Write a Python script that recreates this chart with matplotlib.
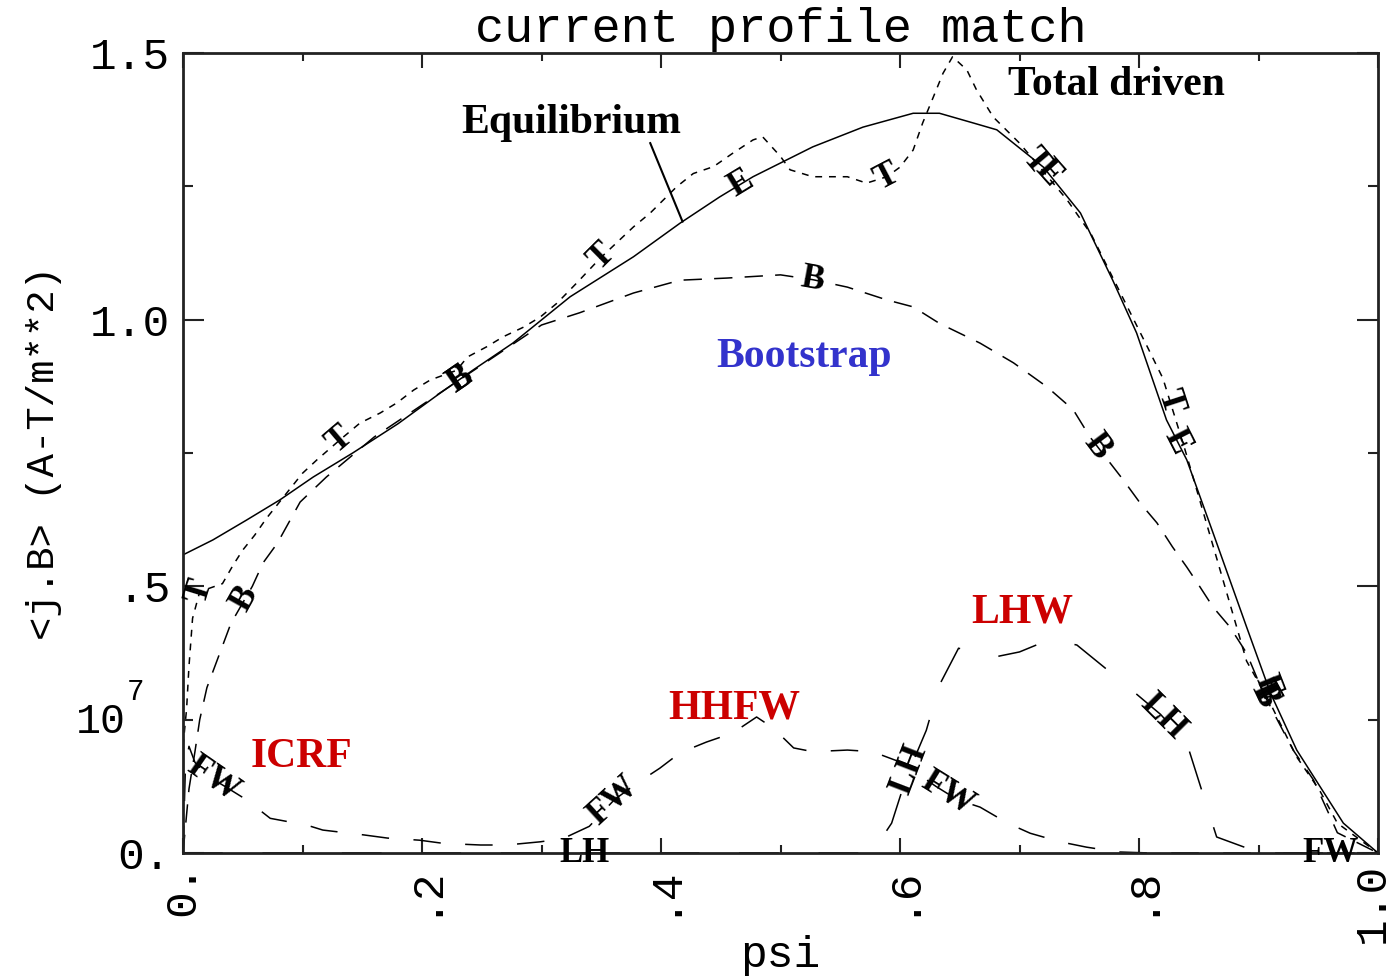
import numpy as np
import matplotlib
matplotlib.use("Agg")
import matplotlib.pyplot as plt
from matplotlib.transforms import blended_transform_factory, ScaledTranslation

# ---- flux-surface averaged current density <j.B>, units of 1e7 A-T/m**2 ----
# equilibrium profile
psi_eq = [0.0, 0.025, 0.053, 0.081, 0.109, 0.142, 0.18, 0.215, 0.243, 0.276, 0.324,
          0.377, 0.416, 0.449, 0.477, 0.527, 0.569, 0.611, 0.633, 0.661, 0.681, 0.72,
          0.751, 0.778, 0.798, 0.823, 0.84, 0.862, 0.89, 0.91, 0.932, 0.971, 1.0]
jb_eq = [0.559, 0.587, 0.624, 0.662, 0.705, 0.75, 0.805, 0.862, 0.906, 0.956, 1.043,
         1.118, 1.181, 1.23, 1.268, 1.324, 1.361, 1.387, 1.387, 1.369, 1.356, 1.286,
         1.2, 1.074, 0.975, 0.812, 0.737, 0.6, 0.424, 0.3, 0.193, 0.056, 0.0]

# total driven current
psi_tot = [0.0, 0.003, 0.005, 0.008, 0.014, 0.033, 0.042, 0.05, 0.06, 0.07, 0.1, 0.112,
           0.131, 0.148, 0.165, 0.179, 0.193, 0.207, 0.229, 0.238, 0.254, 0.268, 0.285,
           0.299, 0.313, 0.33, 0.349, 0.377, 0.391, 0.413, 0.427, 0.444, 0.46, 0.477,
           0.485, 0.5, 0.508, 0.527, 0.556, 0.572, 0.589, 0.6, 0.611, 0.619, 0.628,
           0.636, 0.644, 0.656, 0.664, 0.678, 0.7, 0.717, 0.74, 0.76, 0.78, 0.807, 0.82,
           0.838, 0.866, 0.89, 0.91, 0.932, 0.951, 0.966, 1.0]
jb_tot = [0.20, 0.27, 0.35, 0.44, 0.49, 0.505, 0.54, 0.568, 0.596, 0.628, 0.712, 0.737,
          0.774, 0.806, 0.825, 0.844, 0.868, 0.887, 0.905, 0.93, 0.949, 0.968, 0.986,
          1.005, 1.031, 1.07, 1.115, 1.174, 1.2, 1.249, 1.274, 1.287, 1.312, 1.337,
          1.343, 1.306, 1.281, 1.268, 1.268, 1.256, 1.268, 1.286, 1.318, 1.369, 1.418,
          1.462, 1.493, 1.468, 1.431, 1.38, 1.331, 1.286, 1.224, 1.16, 1.07, 0.949, 0.89,
          0.76, 0.545, 0.36, 0.28, 0.18, 0.118, 0.056, 0.0]

# bootstrap current
psi_bs = [0.0, 0.005, 0.01, 0.014, 0.02, 0.03, 0.04, 0.05, 0.058, 0.067, 0.079, 0.098,
          0.12, 0.16, 0.2, 0.23, 0.26, 0.3, 0.332, 0.377, 0.416, 0.455, 0.5, 0.527,
          0.556, 0.589, 0.611, 0.633, 0.656, 0.667, 0.695, 0.723, 0.745, 0.759, 0.787,
          0.801, 0.815, 0.828, 0.84, 0.851, 0.862, 0.876, 0.89, 0.904, 0.929, 0.946,
          0.96, 0.966, 1.0]
jb_bs = [0.0, 0.12, 0.19, 0.25, 0.31, 0.37, 0.43, 0.469, 0.5, 0.544, 0.581, 0.658,
         0.705, 0.78, 0.84, 0.885, 0.93, 0.99, 1.013, 1.05, 1.074, 1.078, 1.084, 1.075,
         1.061, 1.037, 1.024, 0.993, 0.968, 0.956, 0.919, 0.874, 0.831, 0.78, 0.699,
         0.656, 0.619, 0.574, 0.536, 0.499, 0.461, 0.424, 0.375, 0.30, 0.193, 0.137,
         0.068, 0.038, 0.0]

# fast wave current (ICRF near axis, HHFW off axis)
psi_fw = [0.0, 0.002, 0.005, 0.01, 0.02, 0.035, 0.053, 0.073, 0.104, 0.117, 0.151, 0.171,
          0.198, 0.218, 0.249, 0.271, 0.299, 0.318, 0.34, 0.361, 0.38, 0.399, 0.416,
          0.438, 0.46, 0.48, 0.494, 0.511, 0.527, 0.556, 0.577, 0.602, 0.63, 0.648,
          0.667, 0.69, 0.709, 0.734, 0.756, 0.782, 0.81, 1.0]
jb_fw = [0.0, 0.16, 0.2, 0.17, 0.145, 0.125, 0.1, 0.065, 0.052, 0.043, 0.034, 0.028,
         0.024, 0.018, 0.015, 0.015, 0.021, 0.027, 0.05, 0.1, 0.131, 0.159, 0.188,
         0.208, 0.225, 0.255, 0.234, 0.197, 0.19, 0.193, 0.19, 0.169, 0.125, 0.1,
         0.086, 0.056, 0.037, 0.021, 0.011, 0.002, 0.0, 0.0]

# lower hybrid current
psi_lh = [0.0, 0.57, 0.577, 0.593, 0.605, 0.622, 0.633, 0.649, 0.676, 0.70, 0.725,
          0.748, 0.782, 0.818, 0.84, 0.853, 0.865, 0.899, 0.92, 1.0]
jb_lh = [0.0, 0.0, 0.002, 0.056, 0.14, 0.23, 0.315, 0.384, 0.366, 0.377, 0.40,
         0.39, 0.328, 0.26, 0.206, 0.114, 0.03, 0.002, 0.0, 0.0]

x_ticks = [0.0, 0.2, 0.4, 0.6, 0.8, 1.0]
x_tick_labels = ["0.", ".2", ".4", ".6", ".8", "1.0"]
x_minor = [0.1, 0.3, 0.5, 0.7, 0.9]
y_ticks = [0.0, 0.5, 1.0, 1.5]
y_tick_labels = ["0.", ".5", "1.0", "1.5"]
y_minor = [0.25, 0.75, 1.25]

MONO = "Liberation Mono"
SERIF = "Liberation Serif"

fig = plt.figure(figsize=(13.93, 9.77), dpi=100)
fig.patch.set_facecolor("white")
ax = fig.add_axes([183 / 1393, 124 / 977, 1195 / 1393, 800 / 977])
ax.set_xlim(0, 1)
ax.set_ylim(0, 1.5)

lw = 1.1
ax.plot(psi_eq, jb_eq, color="black", lw=lw, ls="-")
ax.plot(psi_tot, jb_tot, color="black", lw=lw, ls=(0, (4.5, 4.5)))
ax.plot(psi_bs, jb_bs, color="black", lw=lw, ls=(0, (12, 8)))
ax.plot(psi_fw, jb_fw, color="black", lw=lw, ls=(0, (18, 16)))
ax.plot(psi_lh, jb_lh, color="black", lw=lw, ls=(0, (26, 26)))

# ---- axes frame and ticks ----
for sp in ax.spines.values():
    sp.set_linewidth(2.0)
    sp.set_color("#222222")
ax.set_xticks(x_ticks)
ax.set_xticks(x_minor, minor=True)
ax.set_yticks(y_ticks)
ax.set_yticks(y_minor, minor=True)
ax.set_xticklabels(x_tick_labels, rotation=90, fontfamily=MONO, fontsize=32)
ax.set_yticklabels(y_tick_labels, fontfamily=MONO, fontsize=32)
ax.tick_params(which="both", direction="in", top=True, right=True, width=1.5,
               color="#222222")
ax.tick_params(axis="x", which="major", length=11, pad=7)
ax.tick_params(axis="y", which="major", length=15, pad=9)
ax.tick_params(axis="x", which="minor", length=6)
ax.tick_params(axis="y", which="minor", length=7)

# keep the last psi label inside the canvas
last = ax.get_xticklabels()[-1]
last.set_transform(last.get_transform() + ScaledTranslation(-6 / 100, 0, fig.dpi_scale_trans))

# scale factor shown beside the axis
blend = blended_transform_factory(ax.transAxes, ax.transData)
ax.text(-0.048, 0.245, "10", transform=blend, ha="right", va="center",
        fontfamily=MONO, fontsize=30)
ax.text(-0.047, 0.275, "7", transform=blend, ha="left", va="bottom",
        fontfamily=MONO, fontsize=21)

ax.set_title("current profile match", fontfamily=MONO, fontsize=35, pad=8)
ax.set_ylabel("<j.B> (A-T/m**2)", fontfamily=MONO, fontsize=28)
ax.yaxis.set_label_coords(-0.101, 0.5)
ax.set_xlabel("psi", fontfamily=MONO, fontsize=32)
ax.xaxis.set_label_coords(0.5, -0.103)


# ---- curve identification letters, placed along each profile ----
def along(xs, ys, x0):
    y0 = np.interp(x0, xs, ys)
    d = 0.008
    p1 = ax.transData.transform((x0 - d, np.interp(x0 - d, xs, ys)))
    p2 = ax.transData.transform((x0 + d, np.interp(x0 + d, xs, ys)))
    ang = np.degrees(np.arctan2(p2[1] - p1[1], p2[0] - p1[0]))
    return y0, ang


curve_marks = [
    (psi_tot, jb_tot, [0.014, 0.131, 0.35, 0.589, 0.713, 0.826, 0.905], "T"),
    (psi_bs, jb_bs, [0.052, 0.232, 0.527, 0.765, 0.905], "B"),
    (psi_eq, jb_eq, [0.232, 0.467, 0.724, 0.832, 0.908], "E"),
    (psi_fw, jb_fw, [0.025, 0.36, 0.64, 0.96], "FW"),
    (psi_lh, jb_lh, [0.336, 0.608, 0.82], "LH"),
]
for xs, ys, spots, tag in curve_marks:
    for x0 in spots:
        y0, ang = along(xs, ys, x0)
        ax.text(x0, y0, tag, rotation=ang, rotation_mode="anchor",
                ha="center", va="center", fontfamily=SERIF, fontsize=25,
                fontweight="bold", color="black", clip_on=False)

# ---- named annotations ----
bold = dict(fontfamily=SERIF, fontweight="bold", fontsize=30)
ax.text(0.325, 1.35, "Equilibrium", ha="center", va="baseline", color="black", **bold)
eq_tip = np.interp(0.418, psi_eq, jb_eq)
ax.plot([0.391, 0.418], [1.331, eq_tip], color="black", lw=1.5)
ax.text(0.781, 1.421, "Total driven", ha="center", va="baseline", color="black", **bold)
ax.text(0.52, 0.911, "Bootstrap", ha="center", va="baseline", color="#3333CC", **bold)
ax.text(0.099, 0.161, "ICRF", ha="center", va="baseline", color="#CC0000", **bold)
ax.text(0.461, 0.253, "HHFW", ha="center", va="baseline", color="#CC0000", **bold)
ax.text(0.702, 0.433, "LHW", ha="center", va="baseline", color="#CC0000", **bold)

fig.savefig("out.png", dpi=100, facecolor="white")
